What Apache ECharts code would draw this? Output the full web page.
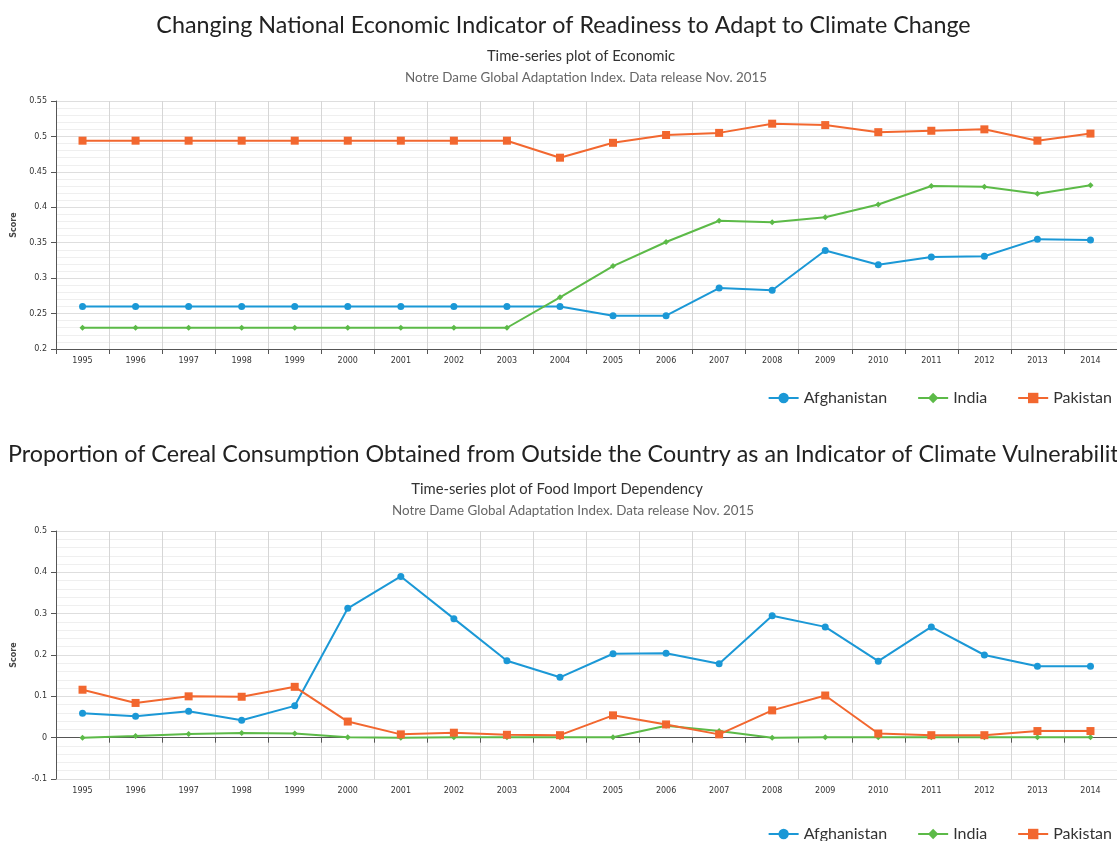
<!DOCTYPE html>
<html lang="en">
<head>
    <meta charset="UTF-8">
    <title>Climate adaptation indicators</title>
    <style>
        html, body { margin: 0; padding: 0; background: #fff; }
        #chart { width: 1117px; height: 841px; }
    </style>
    <script src="https://cdn.jsdelivr.net/npm/echarts@6/dist/echarts.min.js"></script>
</head>
<body>
<div id="chart"></div>
<script>
    // years on the x axis
    var years = ['1995', '1996', '1997', '1998', '1999', '2000', '2001', '2002', '2003', '2004',
        '2005', '2006', '2007', '2008', '2009', '2010', '2011', '2012', '2013', '2014'];

    // Economic readiness (top chart)
    var econAfghanistan = [0.26, 0.26, 0.26, 0.26, 0.26, 0.26, 0.26, 0.26, 0.26, 0.26,
        0.247, 0.247, 0.286, 0.283, 0.339, 0.319, 0.330, 0.331, 0.355, 0.354];
    var econIndia = [0.23, 0.23, 0.23, 0.23, 0.23, 0.23, 0.23, 0.23, 0.23, 0.273,
        0.317, 0.351, 0.381, 0.379, 0.386, 0.404, 0.430, 0.429, 0.419, 0.431];
    var econPakistan = [0.494, 0.494, 0.494, 0.494, 0.494, 0.494, 0.494, 0.494, 0.494, 0.470,
        0.491, 0.502, 0.505, 0.518, 0.516, 0.506, 0.508, 0.510, 0.494, 0.504];

    // Food import dependency (bottom chart)
    var foodAfghanistan = [0.059, 0.052, 0.064, 0.042, 0.077, 0.313, 0.390, 0.288, 0.186, 0.146,
        0.203, 0.204, 0.179, 0.295, 0.268, 0.185, 0.268, 0.200, 0.173, 0.173];
    var foodIndia = [0.0, 0.004, 0.009, 0.011, 0.010, 0.001, 0.0, 0.001, 0.001, 0.001,
        0.001, 0.029, 0.016, 0.0, 0.001, 0.001, 0.001, 0.001, 0.001, 0.001];
    var foodPakistan = [0.116, 0.084, 0.100, 0.099, 0.123, 0.039, 0.008, 0.012, 0.007, 0.006,
        0.054, 0.032, 0.008, 0.066, 0.102, 0.010, 0.006, 0.006, 0.016, 0.016];

    var blue = '#1b98d6', green = '#5cba48', orange = '#f2672f';
    var titleFont = 'Lato, "Open Sans", sans-serif';
    var axisFont = '"DejaVu Sans", Verdana, sans-serif';

    var chart = echarts.init(document.getElementById('chart'));

    function xAxisFor(gridIndex) {
        return {
            type: 'category',
            gridIndex: gridIndex,
            data: years,
            boundaryGap: true,
            axisLine: { lineStyle: { color: '#555', width: 1 } },
            axisTick: { show: true, length: 5, lineStyle: { color: '#555' } },
            axisLabel: { fontSize: 8, color: '#333', fontFamily: axisFont, margin: 8 },
            splitLine: { show: true, lineStyle: { color: '#d6d6d6', width: 1 } }
        };
    }

    function yAxisFor(gridIndex, min, max, step) {
        return {
            type: 'value',
            gridIndex: gridIndex,
            min: min,
            max: max,
            interval: step,
            name: 'Score',
            nameLocation: 'middle',
            nameRotate: 90,
            nameGap: 38,
            nameTextStyle: { fontSize: 8, color: '#444', fontFamily: axisFont, fontWeight: 'bold' },
            axisLine: { show: true, lineStyle: { color: '#555' } },
            axisTick: { show: true, length: 5, lineStyle: { color: '#555' } },
            axisLabel: { fontSize: 8, color: '#333', fontFamily: axisFont, margin: 9 },
            splitLine: { show: true, lineStyle: { color: '#dedede' } },
            minorTick: { show: false, splitNumber: 5 },
            minorSplitLine: { show: true, lineStyle: { color: '#efefef' } }
        };
    }

    function lineSeries(name, data, idx, color, symbol, size) {
        return {
            name: name,
            type: 'line',
            xAxisIndex: idx,
            yAxisIndex: idx,
            data: data,
            symbol: symbol,
            symbolSize: size,
            color: color,
            lineStyle: { width: 2, color: color },
            itemStyle: { color: color },
            emphasis: { disabled: true }
        };
    }

    function centredTitle(text, centerX, top, size, color) {
        return {
            text: text,
            left: centerX - 5, top: top,
            textAlign: 'center',
            textStyle: { fontSize: size, fontWeight: 'normal', color: color, fontFamily: titleFont }
        };
    }

    var legendBase = {
        right: 0,
        itemWidth: 30,
        itemHeight: 13,
        itemGap: 30,
        textStyle: { fontSize: 16, color: '#333', fontFamily: titleFont },
        data: ['Afghanistan', 'India', 'Pakistan']
    };

    chart.setOption({
        animation: false,
        title: [
            centredTitle('Changing National Economic Indicator of Readiness to Adapt to Climate Change', 563.5, 9, 23.3, '#222'),
            centredTitle('Time-series plot of Economic', 581, 44, 14.8, '#333'),
            centredTitle('Notre Dame Global Adaptation Index. Data release Nov. 2015', 586, 66, 13.4, '#666'),
            {
                text: 'Proportion of Cereal Consumption Obtained from Outside the Country as an Indicator of Climate Vulnerability',
                left: 3, top: 438,
                textStyle: { fontSize: 23.3, fontWeight: 'normal', color: '#222', fontFamily: titleFont }
            },
            centredTitle('Time-series plot of Food Import Dependency', 557, 477, 14.8, '#333'),
            centredTitle('Notre Dame Global Adaptation Index. Data release Nov. 2015', 573, 499, 13.4, '#666')
        ],
        legend: [
            Object.assign({ top: 385 }, legendBase),
            Object.assign({ top: 821 }, legendBase)
        ],
        grid: [
            { left: 56, right: 0, top: 101, height: 248 },
            { left: 56, right: 0, top: 531, height: 248 }
        ],
        xAxis: [xAxisFor(0), xAxisFor(1)],
        yAxis: [yAxisFor(0, 0.2, 0.55, 0.05), yAxisFor(1, -0.1, 0.5, 0.1)],
        series: [
            lineSeries('Afghanistan', econAfghanistan, 0, blue, 'circle', 7),
            lineSeries('India', econIndia, 0, green, 'diamond', 6),
            lineSeries('Pakistan', econPakistan, 0, orange, 'rect', 8),
            lineSeries('Afghanistan', foodAfghanistan, 1, blue, 'circle', 7),
            lineSeries('India', foodIndia, 1, green, 'diamond', 6),
            lineSeries('Pakistan', foodPakistan, 1, orange, 'rect', 8)
        ]
    });
</script>
</body>
</html>
